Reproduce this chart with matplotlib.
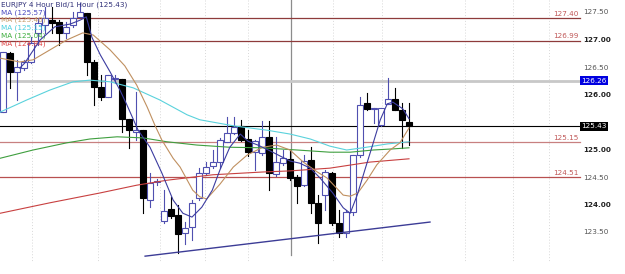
import matplotlib
matplotlib.use('Agg')
import matplotlib.pyplot as plt
from matplotlib.patches import Rectangle

# 4 hour candles, EURJPY
opens = [125.69, 126.76, 126.42, 126.49, 126.60, 127.13, 127.27, 127.36, 127.33, 127.13,
         127.27, 127.42, 127.49, 126.60, 126.15, 125.96, 126.29, 126.29, 125.56, 125.33,
         125.36, 124.09, 124.42, 123.71, 123.93, 123.82, 123.49, 123.60, 124.13, 124.58,
         124.71, 124.78, 125.15, 125.31, 125.44, 125.20, 124.96, 124.95, 125.24, 124.56,
         124.76, 124.84, 124.51, 124.36, 124.82, 124.04, 124.18, 124.58, 123.67, 123.49,
         123.87, 124.91, 125.85, 125.75, 125.45, 125.84, 125.93, 125.73, 125.51]
highs = [126.78, 126.78, 126.64, 126.64, 127.05, 127.40, 127.60, 127.60, 127.36, 127.33,
         127.51, 127.67, 127.49, 126.64, 126.36, 126.36, 126.36, 126.29, 125.56, 126.05,
         125.36, 124.58, 124.47, 124.27, 124.15, 124.00, 123.69, 124.09, 124.67, 124.78,
         125.00, 125.22, 125.60, 125.60, 125.55, 125.36, 125.18, 125.53, 125.53, 125.24,
         125.00, 125.00, 124.55, 124.91, 125.05, 124.18, 124.64, 124.60, 123.91, 123.91,
         124.91, 125.96, 126.04, 125.76, 125.76, 126.31, 126.13, 125.86, 125.86]
lows = [125.69, 126.13, 125.91, 126.45, 126.58, 126.91, 127.13, 127.13, 126.91, 127.04,
        127.24, 127.42, 126.36, 125.82, 125.91, 125.96, 126.22, 125.33, 125.04, 125.18,
        123.85, 123.96, 124.36, 123.67, 123.76, 123.13, 123.29, 123.36, 124.09, 124.55,
        124.67, 124.67, 125.15, 125.29, 125.16, 124.89, 124.64, 124.91, 124.27, 124.53,
        124.73, 124.45, 124.04, 124.35, 123.85, 123.31, 123.91, 123.64, 123.42, 123.42,
        123.82, 124.87, 125.73, 125.49, 125.44, 125.84, 125.73, 125.04, 125.09]
closes = [126.78, 126.42, 126.51, 126.60, 126.95, 127.31, 127.40, 127.31, 127.13, 127.24,
          127.40, 127.51, 126.60, 126.15, 125.96, 126.36, 126.30, 125.56, 125.36, 125.36,
          124.13, 124.40, 124.44, 123.89, 123.80, 123.47, 123.58, 124.04, 124.58, 124.69,
          124.78, 125.18, 125.31, 125.42, 125.18, 124.96, 125.16, 125.24, 124.58, 124.78,
          124.85, 124.49, 124.35, 124.80, 124.04, 123.67, 124.60, 123.67, 123.49, 123.87,
          124.91, 125.82, 125.75, 125.77, 125.76, 125.93, 125.73, 125.55, 125.43]

# moving averages (x = candle index)
ma1_x = [2.4, 3.1, 5.3, 7.4, 9.6, 11.0, 11.9, 12.7, 13.9, 15.3, 16.7, 17.7, 19.3, 21.0,
         22.7, 24.3, 25.7, 27.0, 28.4, 29.9, 31.0, 32.4, 33.9, 35.0, 36.4, 37.9, 39.6,
         41.0, 42.4, 43.9, 45.3, 47.1, 48.6, 49.6, 50.6, 51.7, 52.7, 53.9, 54.9, 55.7,
         57.1, 58.0]
ma1_y = [126.49, 126.58, 127.00, 127.24, 127.29, 127.36, 127.42, 127.05, 126.73, 126.42,
         126.09, 125.82, 125.36, 125.05, 124.58, 124.09, 123.85, 123.78, 123.96, 124.27,
         124.64, 125.05, 125.29, 125.16, 125.09, 125.00, 124.89, 124.80, 124.76, 124.67,
         124.49, 124.22, 123.95, 123.85, 124.18, 124.64, 125.05, 125.55, 125.84, 125.87,
         125.75, 125.57]
ma2_x = [-0.4, 2.4, 4.3, 6.7, 9.1, 11.4, 12.9, 15.3, 17.4, 19.1, 20.6, 21.7, 22.7, 24.3,
         25.3, 27.1, 28.1, 29.1, 31.0, 32.9, 34.9, 37.1, 39.1, 41.0, 42.9, 44.9, 46.3,
         48.6, 49.6, 50.7, 52.0, 53.4, 55.3, 56.7, 58.0]
ma2_y = [126.67, 126.60, 126.64, 126.82, 127.00, 127.13, 127.09, 126.82, 126.53, 126.18,
         125.78, 125.45, 125.18, 124.85, 124.69, 124.27, 124.15, 124.11, 124.38, 124.69,
         124.91, 125.05, 125.09, 125.00, 124.78, 124.60, 124.49, 124.18, 124.16, 124.22,
         124.45, 124.73, 125.00, 125.13, 125.40]
ma3_x = [-0.4, 3.4, 6.7, 10.0, 12.4, 15.3, 18.6, 22.4, 26.3, 28.1, 32.9, 37.7, 41.0,
         43.9, 46.7, 49.1, 51.4, 54.9, 58.0]
ma3_y = [125.69, 125.91, 126.09, 126.24, 126.27, 126.24, 126.13, 125.91, 125.64, 125.55,
         125.44, 125.36, 125.29, 125.20, 125.07, 125.00, 125.04, 125.11, 125.15]
ma4_x = [-0.4, 4.3, 9.1, 12.4, 16.3, 20.0, 23.4, 27.7, 32.4, 37.1, 42.0, 46.7, 49.6,
         52.9, 55.7, 58.0]
ma4_y = [124.85, 125.00, 125.13, 125.20, 125.24, 125.22, 125.15, 125.09, 125.05, 125.04,
         125.00, 124.96, 124.96, 125.00, 125.02, 125.04]
ma5_x = [-0.4, 6.7, 13.9, 19.1, 23.4, 30.0, 37.1, 41.0, 46.7, 52.4, 58.0]
ma5_y = [123.85, 124.04, 124.22, 124.36, 124.45, 124.55, 124.60, 124.62, 124.67, 124.78,
         124.84]

ma_labels = ['MA (125.57)', 'MA (125.40)', 'MA (125.15)', 'MA (125.04)', 'MA (124.84)']
levels = [127.40, 126.99, 125.15, 124.51]
trend_x = [20.3, 61.0]
trend_y = [123.07, 123.69]
axis_ticks = [127.50, 127.00, 126.50, 126.00, 125.00, 124.50, 124.00, 123.50]
last_high = 126.26
last_price = 125.43
title = 'EURJPY 4 Hour Bid/1 Hour (125.43)'


# pixel -> data helpers (chart was drawn at 7 px per candle, 55 px per yen)
def px(x):
    return (x - 3) / 7.0


def py(y):
    return 125 + (150 - y) / 55.0


fig = plt.figure(figsize=(6.25, 2.74), dpi=100)
ax = fig.add_axes([0, 0, 1, 1])
ax.axis('off')
ax.set_xlim(px(0), px(625))
ax.set_ylim(py(274), py(0))

# day separators
for gx in [32, 98, 160, 205, 248, 333, 382, 465, 513, 549]:
    ax.plot([px(gx), px(gx)], [py(0), py(262)], color='#d8d8d8', lw=0.7,
            ls=(0, (1, 2)), zorder=0)
ax.plot([px(291), px(291)], [py(0), py(255)], color='#8c8c8c', lw=0.9, zorder=1)

# horizontal levels
x0, x1 = px(0), px(580)
for lv, col in zip(levels, ['#8e3b3b', '#8e3b3b', '#c88080', '#b85050']):
    ax.plot([x0, x1], [lv, lv], color=col, lw=0.9, zorder=1)
    ax.text(px(579), lv + 0.02, f'{lv:.2f}', color='#c05858', fontsize=5.2,
            ha='right', va='bottom', zorder=5)
ax.plot([x0, x1], [last_high, last_high], color='#c8c8c8', lw=2.0, zorder=1)
ax.plot([x0, x1], [last_price, last_price], color='#000000', lw=0.8, zorder=1)

# candles
w = 0.72
for i in range(len(opens)):
    o, h, l, c = opens[i], highs[i], lows[i], closes[i]
    up = c >= o
    ec = '#5050b0' if up else '#000000'
    fc = 'white' if up else '#000000'
    ax.plot([i, i], [l, h], color=ec, lw=0.8, zorder=2)
    bot = min(o, c)
    hgt = max(abs(c - o), 0.015)
    ax.add_patch(Rectangle((i - w / 2, bot), w, hgt, facecolor=fc, edgecolor=ec,
                           lw=0.8, zorder=3))

# moving averages
ax.plot(ma5_x, ma5_y, color='#c84040', lw=0.8, zorder=4)
ax.plot(ma4_x, ma4_y, color='#3f9f3f', lw=0.8, zorder=4)
ax.plot(ma3_x, ma3_y, color='#5ad2dc', lw=0.8, zorder=4)
ax.plot(ma2_x, ma2_y, color='#c09060', lw=0.8, zorder=4)
ax.plot(ma1_x, ma1_y, color='#3c3ca0', lw=0.8, zorder=4)

# trendline
ax.plot(trend_x, trend_y, color='#3c3c96', lw=1.0, zorder=4)

# price axis
for t in axis_ticks:
    bold = abs(t - round(t)) < 1e-6
    ax.text(px(583), t, f'{t:.2f}', fontsize=5.2, va='center', ha='left',
            color='#222222' if bold else '#555555',
            fontweight='bold' if bold else 'normal')
ax.text(px(581), last_high, f'{last_high:.2f}', fontsize=5.2, va='center', ha='left',
        color='white', bbox=dict(boxstyle='square,pad=0.2', fc='#0000e0', ec='none'))
ax.text(px(581), last_price, f'{last_price:.2f}', fontsize=5.2, va='center', ha='left',
        color='white', bbox=dict(boxstyle='square,pad=0.2', fc='#000000', ec='none'))

# header
ax.text(px(1), py(5), title, fontsize=5.2, color='#303078', va='center', ha='left')
for k, (lab, col) in enumerate(zip(ma_labels, ['#4a4ac0', '#c8a070', '#48cede',
                                               '#3fae3f', '#e04848'])):
    ax.text(px(1), py(12.5 + 7.7 * k), lab, fontsize=5.2, color=col,
            va='center', ha='left')

fig.savefig('out.png', dpi=100)
